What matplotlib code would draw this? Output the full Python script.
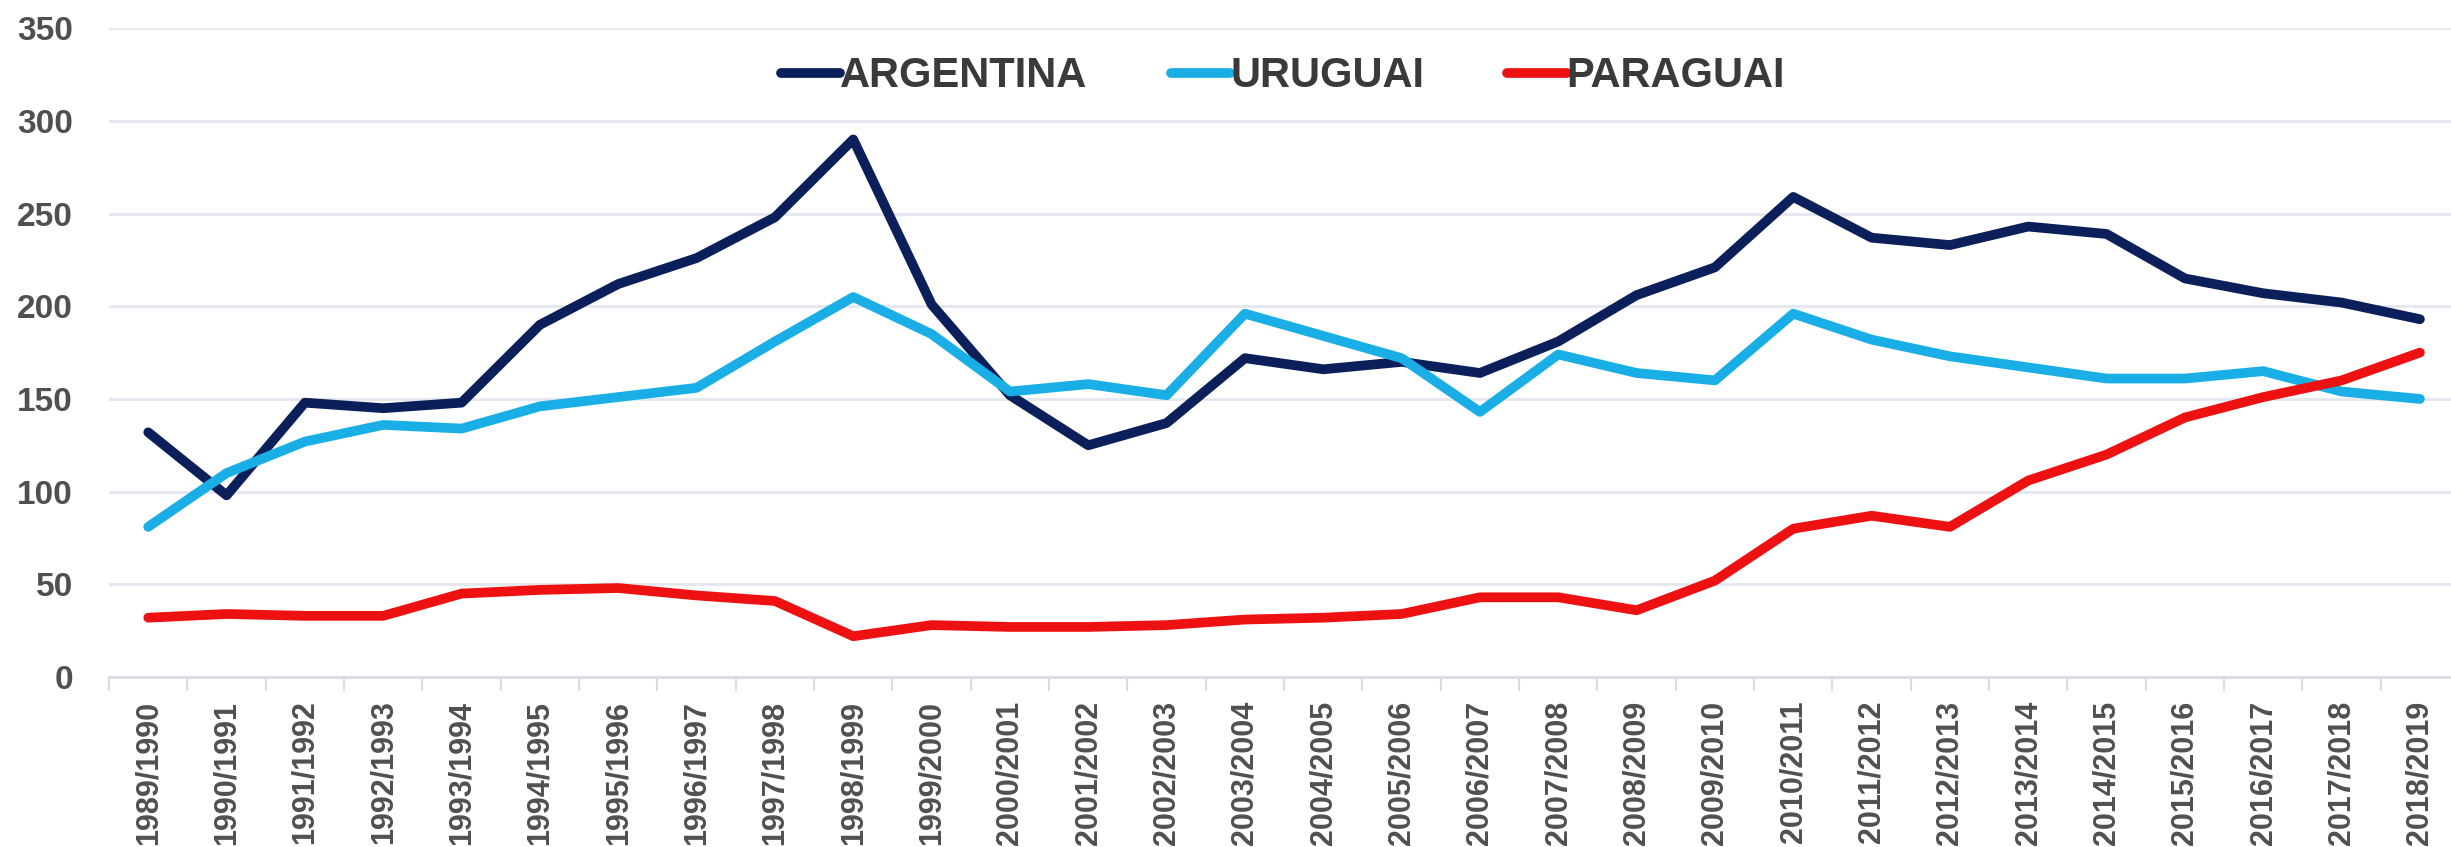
import matplotlib.pyplot as plt
from matplotlib.ticker import MultipleLocator, FixedLocator

safras = ['1989/1990', '1990/1991', '1991/1992', '1992/1993', '1993/1994',
          '1994/1995', '1995/1996', '1996/1997', '1997/1998', '1998/1999',
          '1999/2000', '2000/2001', '2001/2002', '2002/2003', '2003/2004',
          '2004/2005', '2005/2006', '2006/2007', '2007/2008', '2008/2009',
          '2009/2010', '2010/2011', '2011/2012', '2012/2013', '2013/2014',
          '2014/2015', '2015/2016', '2016/2017', '2017/2018', '2018/2019']

argentina = [132, 98, 148, 145, 148, 190, 212, 226, 248, 290,
             201, 152, 125, 137, 172, 166, 170, 164, 181, 206,
             221, 259, 237, 233, 243, 239, 215, 207, 202, 193]
uruguai = [81, 110, 127, 136, 134, 146, 151, 156, 181, 205,
           185, 154, 158, 152, 196, 184, 172, 143, 174, 164,
           160, 196, 182, 173, 167, 161, 161, 165, 154, 150]
paraguai = [32, 34, 33, 33, 45, 47, 48, 44, 41, 22,
            28, 27, 27, 28, 31, 32, 34, 43, 43, 36,
            52, 80, 87, 81, 106, 120, 140, 151, 160, 175]

navy = '#0b1f5a'
azul = '#1aaee6'
vermelho = '#ee1111'
cinza = '#505050'

plt.rcParams['font.family'] = ['Liberation Sans', 'DejaVu Sans']

fig = plt.figure(figsize=(24.51, 8.47), dpi=100)
ax = fig.add_axes([0.0445, 0.2007, 0.9588, 0.766])

x = range(len(safras))
estilo = dict(lw=7, solid_joinstyle='round', solid_capstyle='round', zorder=3)
ax.plot(x, argentina, color=navy, label='ARGENTINA', **estilo)
ax.plot(x, uruguai, color=azul, label='URUGUAI', **estilo)
ax.plot(x, paraguai, color=vermelho, label='PARAGUAI', **estilo)

ax.set_xlim(-0.5, len(safras) - 0.5)
ax.set_ylim(0, 350)
ax.yaxis.set_major_locator(MultipleLocator(50))
ax.grid(axis='y', color='#e4e7ee', lw=2)
ax.set_axisbelow(True)

for s in ['top', 'right', 'left']:
    ax.spines[s].set_visible(False)
ax.spines['bottom'].set_color('#d9dce3')
ax.spines['bottom'].set_linewidth(2)

ax.set_xticks(list(x))
ax.set_xticklabels(safras, rotation=90, fontsize=22, fontweight='bold', color=cinza)
ax.tick_params(axis='x', which='major', length=0, pad=17)
ax.xaxis.set_minor_locator(FixedLocator([i - 0.5 for i in range(len(safras) + 1)]))
ax.tick_params(axis='x', which='minor', length=10, width=1.5, color='#d9dce3')

ax.tick_params(axis='y', length=0, pad=26, labelsize=24, labelcolor=cinza)
for t in ax.get_yticklabels():
    t.set_fontweight('bold')

leg = ax.legend(loc='center', bbox_to_anchor=(0.4996, 0.926), ncol=3, frameon=False,
                handlelength=1.42, handletextpad=0.0, columnspacing=2.0,
                prop={'size': 30, 'weight': 'bold'})
for t in leg.get_texts():
    t.set_color('#3a3a3a')

fig.savefig('out.png', dpi=100)
